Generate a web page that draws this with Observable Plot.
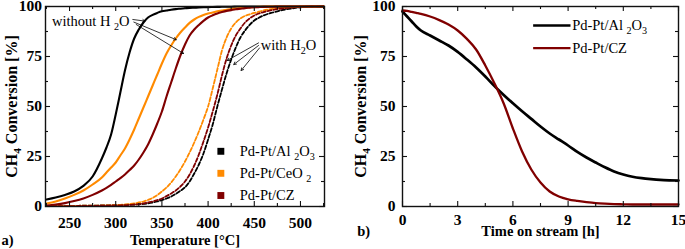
<!DOCTYPE html>
<html><head><meta charset="utf-8">
<script src="https://cdn.jsdelivr.net/npm/d3@7"></script>
<script src="https://cdn.jsdelivr.net/npm/@observablehq/plot@0.6"></script>
<style>
body{margin:0;background:#fff;}
#wrap{position:relative;width:685px;height:249px;overflow:hidden;background:#fff;}
#wrap svg{position:absolute;top:0;font-family:'Liberation Serif','Times New Roman',serif;}
#wrap svg text{font-family:'Liberation Serif','Times New Roman',serif;}
</style></head><body><div id="wrap"></div>
<script>
// ---------- data: panel a (light-off curves) ----------
const tempC = [225,235,245,255,265,275,285,290,295,300,305,310,315,320,325,330,335,340,345,350,355,360,365,370,375,380,385,390,395,400,405,410,415,420,425,430,435,440,445,450,455,460,470,480,490,500,510,525];
const alDry = [3.5,4.5,5.8,7.5,10.3,15,24,29.5,36,46,57,68,77,84,88.5,92,94.5,95.8,96.8,97.6,98,98.4,98.7,98.9,99.1,99.3,99.4,99.5,99.6,99.7,99.75,99.8,99.85,99.9,99.9,99.95,100,100,100,100,100,100,100,100,100,100,100,100];
const ceDry = [1.5,2.5,4,5.8,8,11,14.5,17,19.5,22,25.5,29,33.5,38.5,44,49.5,55,60.5,66,71.5,76.5,80.5,84,87,89.5,91.8,93.5,94.8,95.8,96.5,97,97.6,98,98.4,98.7,99,99.2,99.4,99.55,99.7,99.8,99.85,100,100,100,100,100,100];
const czDry = [0.5,1,1.7,2.7,4,5.8,8,9.3,10.8,12.5,14.2,16,18.2,20.5,23.5,27,31,36,41.5,47.5,55,62,69,75.5,81,85.5,88.5,90.8,92.8,94.5,95.6,96.5,97.2,97.8,98.2,98.6,98.9,99.2,99.4,99.6,99.7,99.8,99.9,100,100,100,100,100];
const alWet = [0.3,0.3,0.3,0.3,0.4,0.4,0.5,0.5,0.6,0.6,0.7,0.8,0.9,1,1.1,1.3,1.6,2,2.5,3.2,4,5,6.3,7.8,9.6,12.5,16.5,21,26.5,33.5,41,50,58.5,66.5,73.5,79.5,84.5,88,90.8,93,94.4,95.5,97,98.2,99,99.6,100,100];
const ceWet = [0.3,0.3,0.3,0.3,0.4,0.4,0.5,0.6,0.6,0.7,0.8,1,1.2,1.5,2,2.5,3.3,4.3,5.7,7.5,9.5,12,15,18.5,22.5,27,32,37.5,43.5,50,59,68.5,78,84.5,89,92,94,95.3,96.1,96.8,97.4,98,98.8,99.3,99.7,100,100,100];
const czWet = [0.2,0.2,0.2,0.2,0.3,0.3,0.4,0.4,0.5,0.5,0.6,0.7,0.8,1,1.2,1.5,2,2.5,3.2,4,5.2,6.5,8,10,12.5,16,20.5,26,32.5,39.5,47.5,56,65.5,74,80.5,85.5,89,92,94,95.5,96.5,97.2,98.3,99,99.5,99.8,100,100];

// ---------- data: panel b (time on stream) ----------
const timeH = [0,0.25,0.5,0.75,1,1.5,2,2.5,3,3.5,4,4.5,5,5.5,6,6.5,7,7.5,8,8.5,9,9.5,10,10.5,11,11.5,12,12.5,13,13.5,14,14.5,15];
const alStream = [97.5,95,92.5,90,88,85.5,83,80.5,77.3,73.5,69.5,65,60.2,55.8,51.6,47.6,43.8,40,36.5,33.5,30.5,27.3,24.5,22,19.6,17.5,16,14.9,14.2,13.7,13.3,13.1,13];
const czStream = [98,97.8,97.3,96.8,96.3,95,93.2,91,88,83.8,78.5,70.5,61.5,51.5,39,27.5,18.5,12,7.5,5,3.6,2.8,2.2,1.7,1.4,1.2,1.1,1,1,1,1,1,1];

// ---------- categories, colours, ticks, labels ----------
const catalysts = ["Pd-Pt/Al _2O_3", "Pd-Pt/CeO _2", "Pd-Pt/CZ"];
const catColors = ["#000000", "#ff8a00", "#800000"];
const tempTicks = [250,300,350,400,450,500];
const tempMinor = [225,275,325,375,425,475,525];
const convTicks = [0,25,50,75,100];
const convMinor = [12.5,37.5,62.5,87.5];
const timeTicks = [0,3,6,9,12,15];
const timeMinor = [1.5,4.5,7.5,10.5,13.5];
const yLabel = "CH_4 Conversion [%]";
const xLabelA = "Temperature [°C]";
const xLabelB = "Time on stream [h]";

// annotations (data units)
const noteDry = [{T: 231, c: 92.5, text: "without H _2O"}];
const noteWet = [{T: 457, c: 80.5, text: "with H_2O"}];
const arrowsDry = [
  {x1: 318.5, y1: 93.5, x2: 331.7, y2: 92.7},
  {x1: 319.6, y1: 92.2, x2: 365.5, y2: 83.4},
  {x1: 322.2, y1: 91.0, x2: 373.4, y2: 76.5}
];
const arrowsWet = [
  {x1: 454.6, y1: 81.8, x2: 420.7, y2: 73.0},
  {x1: 454.6, y1: 80.5, x2: 427.8, y2: 71.0},
  {x1: 455.7, y1: 79.3, x2: 435.8, y2: 68.0}
];
const legendA = [
  {cat: catalysts[0], T: 413.8, tx: 434.3, c: 27.6},
  {cat: catalysts[1], T: 413.8, tx: 434.3, c: 16.6},
  {cat: catalysts[2], T: 413.8, tx: 434.3, c: 5.5}
];
const legendB = [
  {cat: catalysts[0], t1: 7.1, t2: 9.13, tx: 9.22, c: 90.5},
  {cat: catalysts[2], t1: 7.1, t2: 9.13, tx: 9.22, c: 79.2}
];

// ---------- tables ----------
const seriesA = [
  {cat: catalysts[0], wet: false, v: alDry}, {cat: catalysts[1], wet: false, v: ceDry}, {cat: catalysts[2], wet: false, v: czDry},
  {cat: catalysts[0], wet: true, v: alWet}, {cat: catalysts[1], wet: true, v: ceWet}, {cat: catalysts[2], wet: true, v: czWet}
];
const rowsA = seriesA.flatMap(s => tempC.map((T, i) => ({T, c: s.v[i], cat: s.cat, wet: s.wet})));
const seriesB = [{cat: catalysts[0], v: alStream}, {cat: catalysts[2], v: czStream}];
const rowsB = seriesB.flatMap(s => timeH.map((t, i) => ({t, c: s.v[i], cat: s.cat})));

const FONT = "Liberation Serif";
const H = 249, MT = 6, MB = 43;
const PH = H - MT - MB;
const tickTxt = {fontFamily: FONT, fontSize: 15.5, fontWeight: "bold"};
const regTxt = {fontFamily: FONT, fontSize: 14.5, fontWeight: "normal"};
const ttlTxt = {fontFamily: FONT, fontSize: 14.5, fontWeight: "bold"};
const ylTxt = {fontFamily: FONT, fontSize: 16, fontWeight: "bold"};

function frameTicks(xMaj, xMin, yMaj, yMin, pw, ph) {
  const M = 5, m = 3, sw = 1.1;
  return [
    Plot.tickX(xMaj, {x: d => d, insetTop: ph - M, stroke: "#111", strokeWidth: sw}),
    Plot.tickX(xMaj, {x: d => d, insetBottom: ph - M, stroke: "#111", strokeWidth: sw}),
    Plot.tickX(xMin, {x: d => d, insetTop: ph - m, stroke: "#111", strokeWidth: sw}),
    Plot.tickX(xMin, {x: d => d, insetBottom: ph - m, stroke: "#111", strokeWidth: sw}),
    Plot.tickY(yMaj, {y: d => d, insetRight: pw - M, stroke: "#111", strokeWidth: sw}),
    Plot.tickY(yMaj, {y: d => d, insetLeft: pw - M, stroke: "#111", strokeWidth: sw}),
    Plot.tickY(yMin, {y: d => d, insetRight: pw - m, stroke: "#111", strokeWidth: sw}),
    Plot.tickY(yMin, {y: d => d, insetLeft: pw - m, stroke: "#111", strokeWidth: sw})
  ];
}
const svgStyle = "font-family:'Liberation Serif',serif;font-size:15.5px;font-weight:bold;color:#000;background:transparent;overflow:visible;";

// ---------- panel a ----------
const WA = 342, MLA = 45, MRA = 18;
const PWA = WA - MLA - MRA;
const plotA = Plot.plot({
  width: WA, height: H, marginLeft: MLA, marginRight: MRA, marginTop: MT, marginBottom: MB,
  style: svgStyle,
  x: {domain: [224, 526], axis: null},
  y: {domain: [0, 100], axis: null},
  color: {domain: catalysts, range: catColors},
  marks: [
    Plot.line(rowsA.filter(d => d.wet), {x: "T", y: "c", z: "cat", stroke: "cat", strokeWidth: 1.8, strokeDasharray: "4,2", curve: "monotone-x"}),
    Plot.line(rowsA.filter(d => !d.wet), {x: "T", y: "c", z: "cat", stroke: "cat", strokeWidth: 2.1, curve: "monotone-x"}),
    Plot.arrow(arrowsDry, {x1: "x1", y1: "y1", x2: "x2", y2: "y2", stroke: "#000", strokeWidth: 0.8, headLength: 5, inset: 0, bend: 0}),
    Plot.arrow(arrowsWet, {x1: "x1", y1: "y1", x2: "x2", y2: "y2", stroke: "#000", strokeWidth: 0.8, headLength: 5, inset: 0, bend: 0}),
    Plot.text(noteDry, {x: "T", y: "c", text: "text", textAnchor: "start", lineAnchor: "middle", ...regTxt}),
    Plot.text(noteWet, {x: "T", y: "c", text: "text", textAnchor: "start", lineAnchor: "middle", ...regTxt}),
    Plot.dot(legendA, {x: "T", y: "c", fill: "cat", symbol: "square", r: 3.9}),
    Plot.text(legendA, {x: "tx", y: "c", text: "cat", textAnchor: "start", lineAnchor: "middle", ...regTxt}),
    ...frameTicks(tempTicks, tempMinor, convTicks, convMinor, PWA, PH),
    Plot.frame({stroke: "#111", strokeWidth: 1.4}),
    Plot.axisX({ticks: tempTicks, tickSize: 0, tickPadding: 10.5, label: null, tickFormat: d => String(d), ...tickTxt}),
    Plot.axisY({ticks: convTicks, tickSize: 0, tickPadding: 3.5, label: null, tickFormat: d => String(d), ...tickTxt}),
    Plot.text([xLabelA], {text: d => d, frameAnchor: "bottom", dy: 34, textAnchor: "middle", lineAnchor: "middle", ...ttlTxt}),
    Plot.text([yLabel], {text: d => d, frameAnchor: "left", dx: -33.3, rotate: -90, textAnchor: "middle", lineAnchor: "middle", ...ylTxt}),
    Plot.text(["a)"], {text: d => d, frameAnchor: "bottom-left", dx: -44, dy: 34, textAnchor: "start", lineAnchor: "middle", ...ttlTxt})
  ]
});

// ---------- panel b ----------
const WB = 343, MLB = 60, MRB = 7;
const PWB = WB - MLB - MRB;
const colorB = [catalysts[0], catalysts[2]];
const plotB = Plot.plot({
  width: WB, height: H, marginLeft: MLB, marginRight: MRB, marginTop: MT, marginBottom: MB,
  style: svgStyle,
  x: {domain: [0, 15], axis: null},
  y: {domain: [0, 100], axis: null},
  color: {domain: colorB, range: [catColors[0], catColors[2]]},
  marks: [
    Plot.line(rowsB.filter(d => d.cat === catalysts[0]), {x: "t", y: "c", stroke: "cat", strokeWidth: 2.7, curve: "monotone-x"}),
    Plot.line(rowsB.filter(d => d.cat === catalysts[2]), {x: "t", y: "c", stroke: "cat", strokeWidth: 2.3, curve: "monotone-x"}),
    Plot.link(legendB, {x1: "t1", x2: "t2", y1: "c", y2: "c", stroke: "cat", strokeWidth: 2.4}),
    Plot.text(legendB, {x: "tx", y: "c", text: "cat", textAnchor: "start", lineAnchor: "middle", ...regTxt}),
    ...frameTicks(timeTicks, timeMinor, convTicks, convMinor, PWB, PH),
    Plot.frame({stroke: "#111", strokeWidth: 1.4}),
    Plot.axisX({ticks: timeTicks, tickSize: 0, tickPadding: 7.5, label: null, tickFormat: d => String(d), ...tickTxt}),
    Plot.axisY({ticks: convTicks, tickSize: 0, tickPadding: 7, label: null, tickFormat: d => String(d), ...tickTxt}),
    Plot.text([xLabelB], {text: d => d, frameAnchor: "bottom", dy: 25, textAnchor: "middle", lineAnchor: "middle", ...ttlTxt}),
    Plot.text([yLabel], {text: d => d, frameAnchor: "left", dx: -41.3, rotate: -90, textAnchor: "middle", lineAnchor: "middle", ...ylTxt}),
    Plot.text(["b)"], {text: d => d, frameAnchor: "bottom-left", dx: -45.3, dy: 25, textAnchor: "start", lineAnchor: "middle", ...ttlTxt})
  ]
});

const wrap = document.getElementById("wrap");
plotA.style.left = "0px";
plotB.style.left = WA + "px";
wrap.appendChild(plotA);
wrap.appendChild(plotB);

// subscripts: "_d" -> lowered, smaller digit
function richify(svg) {
  svg.querySelectorAll("text").forEach(el => {
    const s = el.textContent;
    if (!s.includes("_")) return;
    const fs = parseFloat(getComputedStyle(el).fontSize) || 14;
    const parts = s.split(/(_\d)/).filter(p => p);
    el.textContent = "";
    let lowered = false;
    for (const p of parts) {
      const t = document.createElementNS("http://www.w3.org/2000/svg", "tspan");
      if (p.startsWith("_")) {
        t.textContent = p.slice(1);
        t.setAttribute("font-size", (fs * 0.7).toFixed(2));
        t.setAttribute("dy", lowered ? "0" : (fs * 0.25).toFixed(2));
        lowered = true;
      } else {
        t.textContent = p;
        if (lowered) { t.setAttribute("dy", (-fs * 0.25).toFixed(2)); lowered = false; }
      }
      el.appendChild(t);
    }
  });
}
richify(plotA);
richify(plotB);
</script></body></html>
